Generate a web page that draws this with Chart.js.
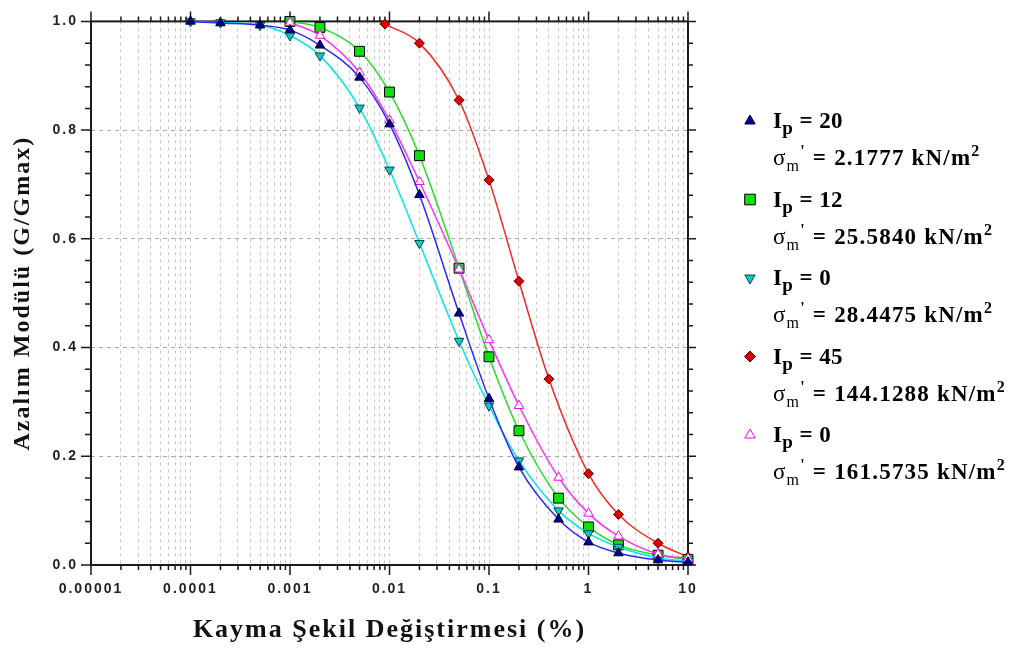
<!DOCTYPE html>
<html>
<head>
<meta charset="utf-8">
<script src="https://cdn.jsdelivr.net/npm/chart.js@4.4.0/dist/chart.umd.min.js"></script>
<style>
  body { margin: 0; background: #fff; }
  #wrap { position: relative; width: 1024px; height: 651px; }
  #legend { position: absolute; left: 773px; top: 0; font: bold 23px "Liberation Serif", serif; color: #000; white-space: nowrap; }
  .row { position: absolute; left: 0; line-height: 23px; letter-spacing: 0.4px; }
  .row.sig { letter-spacing: 1.2px; }
  .row sub, .row sup { line-height: 0; font-size: 16px; }
  .row sub.p { font-size: 19px; vertical-align: -0.3em; }
  .row .thin { font-weight: normal; }
</style>
</head>
<body>
<div id="wrap">
  <canvas id="chart" width="1024" height="651"></canvas>
  <div id="legend"></div>
</div>
<script>
// strain (%) values of the test points
const strain = [0.0001, 0.0002, 0.0005, 0.001, 0.002, 0.005, 0.01, 0.02, 0.05, 0.1, 0.2, 0.5, 1, 2, 5, 10];
const strainFrom001 = [0.001, 0.002, 0.005, 0.01, 0.02, 0.05, 0.1, 0.2, 0.5, 1, 2, 5, 10];
const strainIp45 = [0.009, 0.02, 0.05, 0.1, 0.2, 0.4, 1, 2, 5, 10];

// G/Gmax
const gIp20 = [1.0, 0.997, 0.993, 0.984, 0.956, 0.897, 0.811, 0.681, 0.463, 0.306, 0.18, 0.084, 0.042, 0.022, 0.009, 0.005];
const gIp12 = [1.0, 0.989, 0.945, 0.870, 0.753, 0.546, 0.383, 0.247, 0.123, 0.07, 0.037, 0.018, 0.01];
const gIp0a = [1.0, 0.998, 0.993, 0.974, 0.937, 0.841, 0.727, 0.592, 0.412, 0.293, 0.192, 0.10, 0.058, 0.033, 0.013, 0.007];
const gIp45 = [0.995, 0.96, 0.855, 0.708, 0.522, 0.342, 0.168, 0.093, 0.04, 0.015];
const gIp0b = [0.998, 0.974, 0.906, 0.818, 0.705, 0.544, 0.414, 0.293, 0.161, 0.095, 0.053, 0.02, 0.012];

const legendIp = ['20', '12', '0', '45', '0'];
const legendSigma = ['2.1777', '25.5840', '28.4475', '144.1288', '161.5735'];
const decadeLabels = ['0.00001', '0.0001', '0.001', '0.01', '0.1', '1', '10'];

const decades = decadeLabels.map(Number);
const xTicks = [];
decades.forEach((d, i) => {
  xTicks.push(d);
  if (i < decades.length - 1) for (let k = 2; k <= 9; k++) xTicks.push(d * k);
});
const decadeIndex = (v) => decades.findIndex((d) => Math.abs(d - v) < d * 1e-6);

const pts = (xs, ys) => xs.map((x, i) => ({ x, y: ys[i] }));

const series = [
  { data: pts(strain, gIp20), line: '#2828ff', fill: '#000090', edge: '#000030', style: 'triangle', rot: 0, r: 5.5, order: 0 },
  { data: pts(strainFrom001, gIp12), line: '#22e022', fill: '#10e010', edge: '#000000', style: 'rect', rot: 0, r: 7, order: 3 },
  { data: pts(strain, gIp0a), line: '#00e8e8', fill: '#10c8c8', edge: '#004848', style: 'triangle', rot: 180, r: 5.5, order: 2 },
  { data: pts(strainIp45, gIp45), line: '#ff2222', fill: '#dd0000', edge: '#600000', style: 'rectRot', rot: 0, r: 5, order: 4 },
  { data: pts(strainFrom001, gIp0b), line: '#ff30ff', fill: '#ffffff', edge: '#ff00ff', style: 'triangle', rot: 0, r: 5.5, order: 1 },
];

const tickFont = { family: 'Liberation Sans', size: 14, weight: 'bold' };

const spacingPlugin = {
  id: 'spacing',
  beforeDraw(chart) { chart.ctx.letterSpacing = '2px'; },
  afterDraw(chart) { chart.ctx.letterSpacing = '0px'; },
};

const framePlugin = {
  id: 'frame',
  beforeDatasetsDraw(chart) {
    const { ctx, chartArea: a, scales: { x, y } } = chart;
    ctx.save();
    ctx.strokeStyle = '#1a1a1a';
    ctx.lineWidth = 1.5;
    ctx.beginPath();
    xTicks.forEach((v) => {
      const px = x.getPixelForValue(v);
      const len = decadeIndex(v) >= 0 ? 10 : 5;
      ctx.moveTo(px, a.bottom); ctx.lineTo(px, a.bottom + len);
      ctx.moveTo(px, a.top); ctx.lineTo(px, a.top - len);
    });
    for (let i = 0; i <= 25; i++) {
      const py = y.getPixelForValue(i * 0.04);
      const len = i % 5 === 0 ? 10 : 6;
      ctx.moveTo(a.left, py); ctx.lineTo(a.left - len, py);
      ctx.moveTo(a.right, py); ctx.lineTo(a.right + (i % 5 === 0 ? 8 : 5), py);
    }
    ctx.stroke();
    ctx.lineWidth = 2;
    ctx.strokeRect(a.left, a.top, a.right - a.left, a.bottom - a.top);
    ctx.restore();
  },
  afterDatasetsDraw(chart) {
    // legend markers, same styles as the plotted points
    const ctx = chart.ctx;
    ctx.save();
    chart.data.datasets.forEach((ds, i) => {
      ctx.fillStyle = ds.pointBackgroundColor;
      ctx.strokeStyle = ds.pointBorderColor;
      ctx.lineWidth = 1;
      Chart.helpers.drawPoint(ctx, { pointStyle: ds.pointStyle, rotation: ds.pointRotation, radius: ds.pointRadius + 0.5, borderWidth: 1 }, 750, 121 + i * 78.5);
    });
    ctx.restore();
  },
};

new Chart(document.getElementById('chart').getContext('2d'), {
  type: 'line',
  data: {
    datasets: series.map((s, i) => ({
      label: `Ip = ${legendIp[i]}`,
      data: s.data,
      borderColor: s.line,
      borderWidth: 1.5,
      backgroundColor: s.fill,
      pointStyle: s.style,
      pointRotation: s.rot,
      pointRadius: s.r,
      pointBackgroundColor: s.fill,
      pointBorderColor: s.edge,
      pointBorderWidth: 1,
      cubicInterpolationMode: 'monotone',
      fill: false,
      clip: false,
      order: s.order,
    })),
  },
  options: {
    responsive: false,
    animation: false,
    layout: { padding: { left: 0, right: 336, top: 19, bottom: 0 } },
    plugins: { legend: { display: false }, tooltip: { enabled: false } },
    scales: {
      x: {
        type: 'logarithmic',
        min: 1e-5,
        max: 10,
        afterBuildTicks: (s) => { s.ticks = xTicks.map((v) => ({ value: v })); },
        afterFit: (s) => { s.height = 86; },
        grid: { color: '#c4c4c4', drawTicks: false },
        border: { display: false, dash: [3, 4] },
        ticks: {
          autoSkip: false,
          maxRotation: 0,
          padding: 16,
          color: '#222',
          font: tickFont,
          callback: (v) => { const i = decadeIndex(v); return i < 0 ? '' : decadeLabels[i]; },
        },
        title: {
          display: true,
          text: 'Kayma Şekil Değiştirmesi (%)',
          color: '#111',
          font: { family: 'Liberation Serif', size: 26, weight: 'bold', lineHeight: 1 },
          padding: { top: 0, bottom: 8 },
        },
      },
      y: {
        min: 0,
        max: 1,
        afterFit: (s) => { s.width = 91; },
        grid: { color: '#a8a8a8', drawTicks: false },
        border: { display: false, dash: [4, 4] },
        ticks: { stepSize: 0.2, padding: 13, color: '#222', font: tickFont, callback: (v) => v.toFixed(1) },
        title: {
          display: true,
          text: 'Azalım Modülü (G/Gmax)',
          color: '#111',
          font: { family: 'Liberation Serif', size: 24, weight: 'bold', lineHeight: 1 },
          padding: { top: 11, bottom: 0 },
        },
      },
    },
  },
  plugins: [spacingPlugin, framePlugin],
});

const legend = document.getElementById('legend');
legendIp.forEach((ip, i) => {
  const cy = 121 + i * 78.5;
  legend.insertAdjacentHTML('beforeend',
    `<div class="row" style="top:${cy - 12}px">I<sub class="p">p</sub> = ${ip}</div>` +
    `<div class="row sig" style="top:${cy + 25}px"><span class="thin">σ</span><sub class="thin">m</sub><sup>'</sup> = ${legendSigma[i]} kN/m<sup>2</sup></div>`);
});
</script>
</body>
</html>
